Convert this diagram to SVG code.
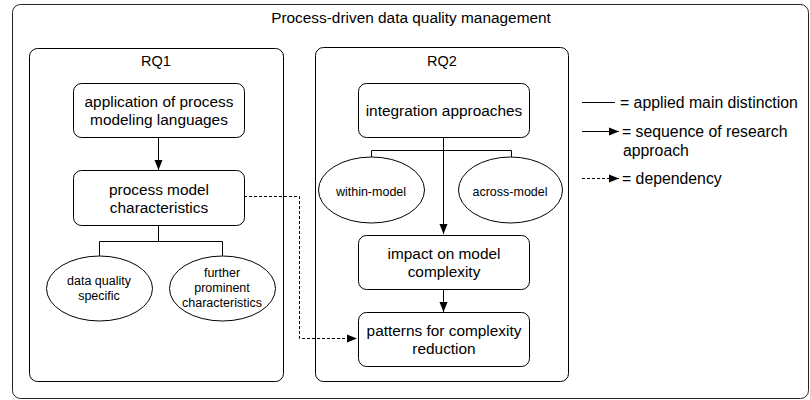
<svg xmlns="http://www.w3.org/2000/svg" width="810" height="400" viewBox="0 0 810 400">
<defs>
<marker id="arr" viewBox="0 0 10 10" refX="10" refY="5" markerWidth="10" markerHeight="10" markerUnits="userSpaceOnUse" orient="auto">
<path d="M0,1 L10,5 L0,9 Z" fill="#000"/>
</marker>
<style>
text{font-family:"Liberation Sans",Arial,sans-serif;fill:#000;text-anchor:middle;dominant-baseline:central}
.t14{font-size:15.4px}
.tq{font-size:14.5px}
.t12{font-size:12.5px}
.box{fill:#fff;stroke:#000;stroke-width:1}
.frame{fill:#fff;stroke:#222;stroke-width:1}
.line{fill:none;stroke:#000;stroke-width:1}
.dash{fill:none;stroke:#000;stroke-width:1;stroke-dasharray:3,2}
.leg{text-anchor:start;font-size:15.8px}
</style>
</defs>
<rect width="810" height="400" fill="#fff"/>
<g id="frame">
<rect class="frame" x="12.5" y="4.5" width="796" height="394" rx="8"/>
<text class="t14" x="411" y="17">Process-driven data quality management</text>
</g>
<g id="rq1">
<rect class="box" x="29.5" y="48.5" width="254" height="333" rx="8"/>
<text class="tq" x="156" y="61">RQ1</text>
</g>
<g id="rq2">
<rect class="box" x="315.5" y="47.5" width="253" height="334" rx="8"/>
<text class="tq" x="442" y="61">RQ2</text>
</g>
<g id="connectors">
<path class="line" d="M158.5,137 V170" marker-end="url(#arr)"/>
<path class="line" d="M158.5,225 V241.5 H99.5 V256 M158.5,241.5 H222.5 V256"/>
<path class="dash" d="M244,196.5 H299.5 V338.5 H357" marker-end="url(#arr)"/>
<path class="line" d="M443.5,137 V150.5 H371.5 V157 M443.5,150.5 H511.5 V157"/>
<path class="line" d="M443.5,150 V234" marker-end="url(#arr)"/>
<path class="line" d="M443.5,289 V312" marker-end="url(#arr)"/>
</g>
<g id="n-application">
<rect class="box" x="73.5" y="83.5" width="171" height="54" rx="8"/>
<text class="t14" x="159" y="101">application of process</text>
<text class="t14" x="159" y="119">modeling languages</text>
</g>
<g id="n-characteristics">
<rect class="box" x="73.5" y="170.5" width="171" height="55" rx="8"/>
<text class="t14" x="159" y="189">process model</text>
<text class="t14" x="159" y="207">characteristics</text>
</g>
<g id="n-dq">
<ellipse class="box" cx="99.5" cy="288.5" rx="53" ry="32.5"/>
<text class="t12" x="99" y="281">data quality</text>
<text class="t12" x="99" y="296">specific</text>
</g>
<g id="n-further">
<ellipse class="box" cx="222.5" cy="288.5" rx="53" ry="32.5"/>
<text class="t12" x="222" y="273">further</text>
<text class="t12" x="222" y="288">prominent</text>
<text class="t12" x="222" y="303">characteristics</text>
</g>
<g id="n-integration">
<rect class="box" x="358.5" y="83.5" width="171" height="54" rx="8"/>
<text class="t14" x="444" y="110">integration approaches</text>
</g>
<g id="n-within">
<ellipse class="box" cx="371.5" cy="190" rx="53" ry="33"/>
<text class="t12" x="371" y="192">within-model</text>
</g>
<g id="n-across">
<ellipse class="box" cx="510.5" cy="190" rx="52" ry="33"/>
<text class="t12" x="510" y="192">across-model</text>
</g>
<g id="n-impact">
<rect class="box" x="358.5" y="235.5" width="171" height="54" rx="8"/>
<text class="t14" x="444" y="253">impact on model</text>
<text class="t14" x="444" y="271">complexity</text>
</g>
<g id="n-patterns">
<rect class="box" x="358.5" y="312.5" width="171" height="54" rx="8"/>
<text class="t14" x="444" y="330">patterns for complexity</text>
<text class="t14" x="444" y="348">reduction</text>
</g>
<g id="legend">
<path class="line" d="M582,102.5 H615"/>
<text class="leg" x="620" y="102">= applied main distinction</text>
<path class="line" d="M582,131.5 H619" marker-end="url(#arr)"/>
<text class="leg" x="622" y="131">= sequence of research</text>
<text class="leg" x="623" y="150">approach</text>
<path class="dash" d="M582,178.5 H619" marker-end="url(#arr)"/>
<text class="leg" x="622" y="178">= dependency</text>
</g>
</svg>
